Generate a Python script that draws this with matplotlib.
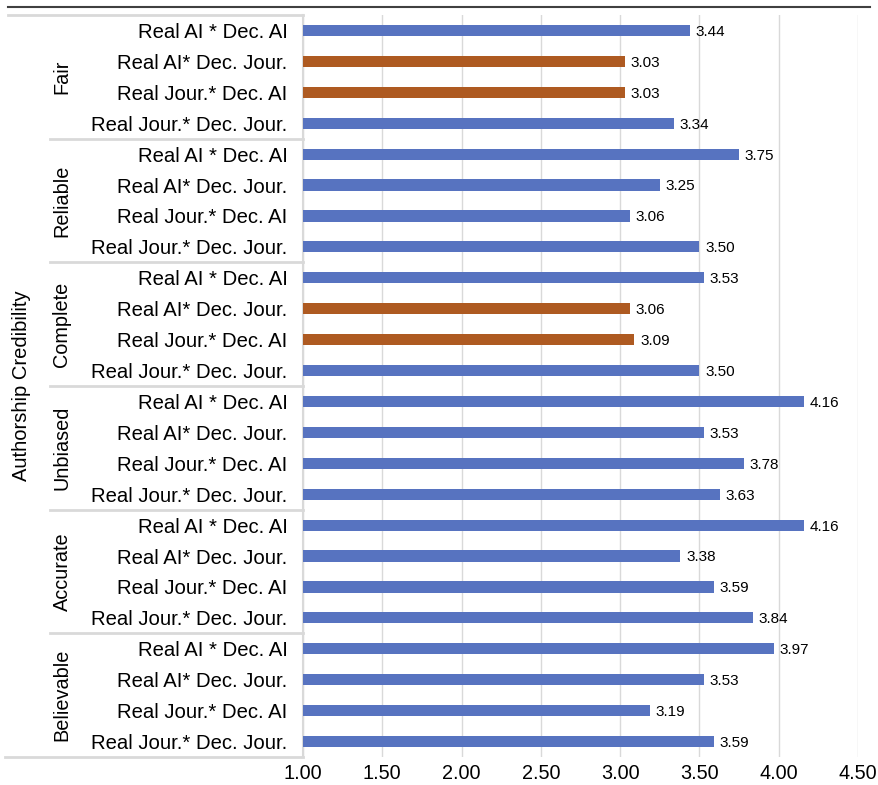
import matplotlib
matplotlib.use("Agg")
import matplotlib.pyplot as plt
from matplotlib.lines import Line2D
from matplotlib.transforms import blended_transform_factory

plt.rcParams["font.family"] = ["Liberation Sans", "DejaVu Sans"]

groups = ["Fair", "Reliable", "Complete", "Unbiased", "Accurate", "Believable"]
conditions = ["Real AI * Dec. AI", "Real AI* Dec. Jour.",
              "Real Jour.* Dec. AI", "Real Jour.* Dec. Jour."]
fair = [3.44, 3.03, 3.03, 3.34]
reliable = [3.75, 3.25, 3.06, 3.50]
complete = [3.53, 3.06, 3.09, 3.50]
unbiased = [4.16, 3.53, 3.78, 3.63]
accurate = [4.16, 3.38, 3.59, 3.84]
believable = [3.97, 3.53, 3.19, 3.59]
highlighted = [("Fair", "Real AI* Dec. Jour."), ("Fair", "Real Jour.* Dec. AI"),
               ("Complete", "Real AI* Dec. Jour."), ("Complete", "Real Jour.* Dec. AI")]
xticks = [1.0, 1.5, 2.0, 2.5, 3.0, 3.5, 4.0, 4.5]

series = [fair, reliable, complete, unbiased, accurate, believable]
blue = "#5773C0"
brown = "#AE5A21"
grid_c = "#D9D9D9"

W, H = 879, 785
fig = plt.figure(figsize=(W / 100, H / 100), dpi=100)
ax = fig.add_axes([303 / W, 1 - 757 / H, (858 - 303) / W, (757 - 15) / H])

labels, values, colors = [], [], []
for g, vals in zip(groups, series):
    for c, v in zip(conditions, vals):
        labels.append(c)
        values.append(v)
        colors.append(brown if (g, c) in highlighted else blue)

ypos = list(range(len(values)))
ax.barh(ypos, values, height=0.36, color=colors, zorder=3)
for y, v in zip(ypos, values):
    ax.annotate(f"{v:.2f}", (v, y), xytext=(4, -1), textcoords="offset points",
                va="center", ha="left", fontsize=11)

ax.set_xlim(1.0, 4.5)
ax.set_ylim(len(values) - 0.5, -0.5)
ax.set_xticks(xticks)
ax.set_xticklabels([f"{t:.2f}" for t in xticks], fontsize=14.3)
ax.set_yticks(ypos)
ax.set_yticklabels(labels, fontsize=14.6)
ax.tick_params(axis="both", length=0)
ax.tick_params(axis="y", pad=11)
ax.tick_params(axis="x", pad=5)
ax.grid(axis="x", color=grid_c, linewidth=1, zorder=0)
for s in ["top", "right", "bottom"]:
    ax.spines[s].set_visible(False)
ax.spines["left"].set_color(grid_c)
ax.spines["left"].set_linewidth(1.5)

# table lines on the left
tr = blended_transform_factory(fig.transFigure, ax.transData)
n = len(conditions)
for i in range(1, len(groups)):
    ax.add_line(Line2D([50 / W, 303 / W], [i * n - 0.5] * 2, transform=tr,
                       color=grid_c, linewidth=2, clip_on=False))
ax.add_line(Line2D([8 / W, 303 / W], [-0.5] * 2, transform=tr,
                   color=grid_c, linewidth=2, clip_on=False))
ax.add_line(Line2D([5 / W, 303 / W], [len(values) - 0.5] * 2, transform=tr,
                   color=grid_c, linewidth=2, clip_on=False))

for i, g in enumerate(groups):
    ax.text(62 / W, i * n + (n - 1) / 2, g, transform=tr, rotation=90,
            ha="center", va="center", fontsize=14.3)

fig.text(22 / W, 1 - 386 / H, "Authorship Credibility", rotation=90,
         ha="center", va="center", fontsize=14.5)

fig.add_artist(Line2D([8 / W, 870 / W], [1 - 7 / H] * 2, transform=fig.transFigure,
                      color="#404040", linewidth=1.5))

fig.savefig("out.png", dpi=100)
